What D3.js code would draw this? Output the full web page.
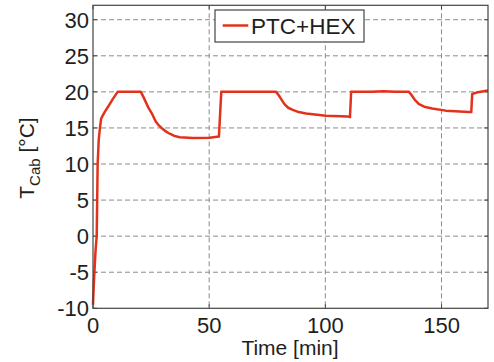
<!DOCTYPE html>
<html><head><meta charset="utf-8">
<script src="https://cdn.jsdelivr.net/npm/d3@7"></script>
<style>
body{margin:0;background:#fff;}
text{font-family:"Liberation Sans",Arial,sans-serif;fill:#1e1e1e;}
</style></head>
<body><svg id="c" width="494" height="362"></svg>
<script>
const seriesName = "PTC+HEX";
const timeMin = [0,0.3,0.6,1.1,1.6,2.0,2.5,3.0,3.5,5,6.6,8.5,10.6,20.6,22,23.7,25.5,27,28.2,29.5,31,33,35,37.3,43,50.2,54.2,55.2,60,70,78.8,80,81.2,82.4,84,86,88.5,91.7,100.3,109.6,110.6,111.1,120,125,130,136,137,138.5,140.3,143,146,151.8,161.8,162.8,163.2,165,170];
const tempCab = [-9.5,-7,-5,-2,0,10,13.5,15,16.3,17.2,18,19,20,20,19.1,17.9,16.9,15.9,15.4,15,14.6,14.2,13.9,13.7,13.6,13.65,13.8,20,20,20,20,19.5,18.9,18.3,17.8,17.5,17.2,17.0,16.7,16.6,16.5,20,20,20.1,20,20,19.6,18.9,18.3,17.9,17.7,17.4,17.2,17.2,19.7,19.9,20.2];
const xTicks = [0,50,100,150];
const yTicks = [-10,-5,0,5,10,15,20,25,30];

const svg = d3.select("#c");
const L=93, R=488, T=5.3, B=308.3;
const x = d3.scaleLinear().domain([0,170]).range([L,R]);
const y = d3.scaleLinear().domain([-10,32]).range([B,T]);

// grid
const g = svg.append("g");
g.selectAll(".gx").data(xTicks.filter(d=>d>0)).join("line")
  .attr("x1",d=>x(d)).attr("x2",d=>x(d)).attr("y1",T).attr("y2",B)
  .attr("stroke","#8c8c8c").attr("stroke-width",1).attr("stroke-dasharray","5,3");
g.selectAll(".gy").data(yTicks.filter(d=>d>-10)).join("line")
  .attr("x1",L).attr("x2",R).attr("y1",d=>y(d)).attr("y2",d=>y(d))
  .attr("stroke","#8c8c8c").attr("stroke-width",1).attr("stroke-dasharray","5,3");

// inward ticks
const tk = 4;
xTicks.forEach(d=>{
  g.append("line").attr("x1",x(d)).attr("x2",x(d)).attr("y1",B).attr("y2",B-tk).attr("stroke","#444");
  g.append("line").attr("x1",x(d)).attr("x2",x(d)).attr("y1",T).attr("y2",T+tk).attr("stroke","#444");
});
yTicks.forEach(d=>{
  g.append("line").attr("x1",L).attr("x2",L+tk).attr("y1",y(d)).attr("y2",y(d)).attr("stroke","#444");
  g.append("line").attr("x1",R).attr("x2",R-tk).attr("y1",y(d)).attr("y2",y(d)).attr("stroke","#444");
});

// data line
const data = timeMin.map((t,i)=>[t,tempCab[i]]);
svg.append("path").datum(data)
  .attr("d", d3.line().x(d=>x(d[0])).y(d=>y(d[1])))
  .attr("fill","none").attr("stroke","#e2321c").attr("stroke-width",2.5)
  .attr("stroke-linejoin","round");

// box
svg.append("rect").attr("x",L).attr("y",T).attr("width",R-L).attr("height",B-T)
  .attr("fill","none").attr("stroke","#444").attr("stroke-width",1.2);

// tick labels
svg.selectAll(".xl").data(xTicks).join("text")
  .attr("x",d=>x(d)).attr("y",333).attr("text-anchor","middle")
  .style("font-size","22px").text(d=>d);
svg.selectAll(".yl").data(yTicks).join("text")
  .attr("x",89).attr("y",d=>y(d)+8).attr("text-anchor","end")
  .style("font-size","22px").text(d=>d);

// axis titles
svg.append("text").attr("x",290).attr("y",355).attr("text-anchor","middle")
  .style("font-size","21px").text("Time [min]");
const yt = svg.append("text").attr("transform","translate(34,158) rotate(-90)")
  .attr("text-anchor","middle").style("font-size","21px");
yt.append("tspan").text("T");
yt.append("tspan").attr("dy",6).style("font-size","15px").text("Cab");
yt.append("tspan").attr("dy",-6).text(" [°C]");

// legend
svg.append("rect").attr("x",215).attr("y",10).attr("width",149).attr("height",32)
  .attr("fill","#fff").attr("stroke","#444").attr("stroke-width",1.2);
svg.append("line").attr("x1",222.7).attr("x2",248.3).attr("y1",25.5).attr("y2",25.5)
  .attr("stroke","#e2321c").attr("stroke-width",2.5);
svg.append("text").attr("x",251).attr("y",34).style("font-size","22.5px").text(seriesName);
</script></body></html>
